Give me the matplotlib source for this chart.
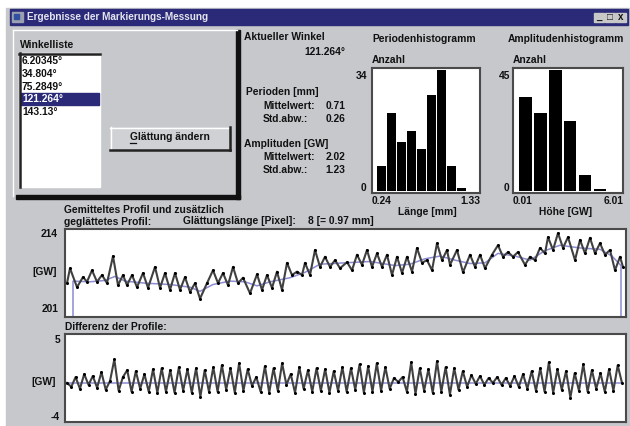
import numpy as np
import matplotlib.pyplot as plt
from matplotlib.patches import Rectangle

# ------------------------------------------------------------
# Data
# ------------------------------------------------------------
ANGLES = ["6.20345°", "34.804°", "75.2849°", "121.264°", "143.13°"]
SELECTED = 3
CURRENT_ANGLE = "121.264°"

PERIOD_MEAN, PERIOD_STD = "0.71", "0.26"
AMPL_MEAN, AMPL_STD = "2.02", "1.23"

PERIOD_COUNTS = [7, 22, 14, 17, 12, 27, 34, 7, 1, 0]
PERIOD_LABELS = ["0.24", "1.33"]
AMPL_COUNTS = [35, 29, 45, 26, 6, 1, 0]
AMPL_LABELS = ["0.01", "6.01"]

# averaged profile (pixel position along profile, grey value)
PROFILE_POS = [2, 5, 12, 18, 22, 27, 32, 37, 42, 48,
               53, 58, 62, 67, 72, 78, 83, 90, 95, 100,
               105, 110, 115, 120, 125, 130, 135, 142, 148, 153,
               158, 163, 168, 173, 178, 185, 192, 197, 202, 207,
               212, 217, 222, 227, 232, 237, 240, 245, 250, 255,
               260, 265, 270, 275, 282, 287, 292, 297, 302, 307,
               312, 317, 322, 327, 332, 337, 342, 347, 352, 357,
               362, 367, 372, 377, 382, 385, 392, 398, 405, 410,
               415, 420, 427, 433, 438, 443, 448, 453, 460, 465,
               470, 475, 480, 483, 488, 493, 498, 503, 510, 515,
               520, 525, 530, 535, 540, 545, 550, 555, 558]
PROFILE_GW = [206.0, 208.2, 205.4, 206.9, 206.2, 207.9, 206.2, 207.2, 206.0, 210.0,
              205.7, 207.2, 205.7, 207.2, 205.4, 207.5, 205.3, 208.4, 205.3, 207.5,
              205.0, 207.5, 205.0, 206.9, 204.7, 206.0, 203.7, 206.0, 207.9, 206.0,
              207.5, 205.7, 208.4, 206.0, 206.8, 204.5, 207.3, 205.0, 207.2, 205.3,
              207.7, 205.0, 209.0, 207.2, 207.7, 207.2, 209.0, 207.2, 210.9, 208.4,
              209.9, 208.4, 209.4, 208.2, 209.1, 207.9, 210.2, 208.7, 210.9, 208.4,
              210.4, 208.4, 210.2, 207.2, 209.9, 207.5, 209.9, 207.7, 211.2, 209.0,
              209.4, 207.9, 211.9, 209.4, 210.9, 208.7, 210.9, 207.6, 210.2, 208.4,
              210.2, 208.2, 210.2, 211.6, 209.9, 210.6, 209.9, 210.6, 208.7, 209.9,
              209.4, 211.2, 210.4, 212.8, 210.9, 213.4, 211.2, 212.8, 209.4, 212.4,
              210.4, 212.7, 210.4, 211.9, 210.2, 210.9, 207.9, 209.9, 208.4]

# smoothed profile (smoothing length 8 pixel)
SMOOTH_POS = [8, 8, 25, 40, 50, 60, 80, 105, 125, 135, 148, 165, 180, 192, 205,
              225, 240, 255, 280, 305, 330, 345, 360, 375, 390, 405, 420, 433,
              450, 465, 480, 495, 515, 535, 547, 556, 556]
SMOOTH_GW = [201.0, 206.3, 206.2, 206.4, 207.0, 206.3, 206.0, 205.8, 205.4, 204.8,
             205.8, 206.3, 206.2, 205.6, 206.2, 206.8, 207.6, 208.8, 209.0, 209.2,
             208.6, 208.8, 209.6, 210.0, 209.4, 208.9, 209.0, 210.4, 210.0, 209.4,
             210.8, 211.6, 211.2, 211.0, 210.0, 208.6, 201.0]

# difference of the profiles
DIFF_GW = [0.0, -0.4, 0.6, -0.6, 0.9, -0.2, 0.7, -0.5, 1.1, -0.7,
           0.2, 2.4, -0.8, 0.6, 1.3, -0.9, 1.2, -0.6, 0.9, -0.9,
           1.4, -1.0, 1.5, -0.9, 1.3, -1.0, 1.6, -0.8, 1.4, -1.0,
           1.5, -1.4, 1.3, -0.9, 1.6, -0.9, 1.8, -0.7, 1.5, -1.0,
           2.0, -0.8, 1.4, -0.3, 0.6, -0.9, 1.7, -1.0, 1.5, -0.8,
           2.0, -0.2, 0.9, -1.0, 1.6, -0.6, 1.3, -0.9, 1.5, -0.8,
           1.4, -1.0, 1.2, -0.8, 1.6, -0.9, 1.5, -0.7, 1.9, -1.0,
           1.7, -0.9, 2.0, -0.8, 1.6, -0.6, 0.5, 0.1, 0.6, -0.9,
           2.1, -1.1, 1.5, -0.8, 1.4, -1.0, 2.2, -0.9, 1.6, -1.2,
           1.5, -0.7, 1.2, -0.4, 0.8, -0.1, 0.7, -0.2, 0.5, 0.0,
           0.6, -0.2, 0.5, -0.3, 0.7, -0.4, 0.9, -0.6, 1.2, -0.8,
           1.5, -0.9, 2.1, -1.0, 1.4, -0.7, 1.2, -1.5, 1.0, -0.8,
           1.9, -0.9, 1.3, -0.6, 1.0, -0.9, 1.4, -0.8, 1.8, 0.0]

# ------------------------------------------------------------
# Style
# ------------------------------------------------------------
W, H = 630, 426
GRAY = '#c6c8cc'
NAVY = '#2a2a78'
LINE = '#404040'
BLUE = '#8c8cd4'
FONT = dict(family='Liberation Sans', fontweight='bold', fontsize=7.4, color='#111111')


def box(x0, y0, x1, y1):
    """pixel box -> figure fraction rect"""
    return [x0 / W, 1 - y1 / H, (x1 - x0) / W, (y1 - y0) / H]


def txt(ax, x, y, s, ha='left', **kw):
    opts = dict(FONT)
    opts.update(kw)
    ax.text(x, y, s, ha=ha, va='center', **opts)


def plain_axes(rect):
    ax = fig.add_axes(rect)
    ax.set_facecolor('white')
    ax.set_xticks([])
    ax.set_yticks([])
    for sp in ax.spines.values():
        sp.set_color('#4a4a4a')
        sp.set_linewidth(1.5)
    return ax


fig = plt.figure(figsize=(W / 100, H / 100), dpi=100)
fig.patch.set_facecolor('white')

# chrome layer in pixel coordinates
bg = fig.add_axes([0, 0, 1, 1])
bg.set_xlim(0, W)
bg.set_ylim(H, 0)
bg.axis('off')

bg.add_patch(Rectangle((6, 8), W - 6, H - 8, color=GRAY))
bg.add_patch(Rectangle((10, 9), 618, 16, color=NAVY))
bg.add_patch(Rectangle((12, 12), 11, 10, color='#9aa0b0'))
bg.add_patch(Rectangle((14, 14), 5, 5, color='#3050a0'))
txt(bg, 27, 17, "Ergebnisse der Markierungs-Messung", color='#e4e4ee', fontsize=7.2)
for bx, glyph in zip([594, 605, 616], ["_", "□", "x"]):
    bg.add_patch(Rectangle((bx, 13), 10, 9, color='#c8c8c8'))
    txt(bg, bx + 5, 17.5, glyph, ha='center', fontsize=7)

# group panel with shadow
bg.plot([13, 237], [30, 30], color='white', lw=1)
bg.plot([13, 13], [30, 196], color='white', lw=1)
bg.add_patch(Rectangle((236, 30), 4, 169, color='#111111'))
bg.add_patch(Rectangle((16, 195), 224, 4, color='#111111'))

# list box
txt(bg, 20, 45, "Winkelliste")
bg.add_patch(Rectangle((19, 53), 81, 134, color='white'))
bg.plot([19, 100], [53.5, 53.5], color='#222222', lw=1.8)
bg.plot([19.5, 19.5], [53, 187], color='#222222', lw=1.8)
for i, ang in enumerate(ANGLES):
    y = 61 + i * 12.8
    col = '#111111'
    if i == SELECTED:
        bg.add_patch(Rectangle((21, y - 6), 78, 12, color=NAVY))
        col = 'white'
    txt(bg, 22, y, ang, color=col)

# button
bg.add_patch(Rectangle((110, 127), 120, 23, color='#cfd1d4'))
bg.plot([110, 230], [127.5, 127.5], color='white', lw=1)
bg.plot([110.5, 110.5], [127, 150], color='white', lw=1)
bg.plot([110, 230], [150, 150], color='#222222', lw=1.8)
bg.plot([230, 230], [127, 150], color='#222222', lw=1.8)
txt(bg, 170, 137, "Glättung ändern", ha='center')
bg.plot([130, 136], [142.5, 142.5], color='#111111', lw=0.9)

# statistics text
txt(bg, 244, 37, "Aktueller Winkel")
txt(bg, 345, 52, CURRENT_ANGLE, ha='right')
txt(bg, 246, 92, "Perioden [mm]")
txt(bg, 263, 106, "Mittelwert:")
txt(bg, 345, 106, PERIOD_MEAN, ha='right')
txt(bg, 263, 119, "Std.abw.:")
txt(bg, 345, 119, PERIOD_STD, ha='right')
txt(bg, 244, 144, "Amplituden [GW]")
txt(bg, 263, 157, "Mittelwert:")
txt(bg, 345, 157, AMPL_MEAN, ha='right')
txt(bg, 263, 170, "Std.abw.:")
txt(bg, 345, 170, AMPL_STD, ha='right')

# histogram labels
txt(bg, 372, 39, "Periodenhistogramm")
txt(bg, 372, 60, "Anzahl")
txt(bg, 367, 76, str(max(PERIOD_COUNTS)), ha='right')
txt(bg, 366, 188, "0", ha='right')
txt(bg, 372, 201, PERIOD_LABELS[0])
txt(bg, 480, 201, PERIOD_LABELS[1], ha='right')
txt(bg, 427, 212, "Länge [mm]", ha='center')

txt(bg, 566, 39, "Amplitudenhistogramm", ha='center')
txt(bg, 513, 60, "Anzahl")
txt(bg, 510, 76, str(max(AMPL_COUNTS)), ha='right')
txt(bg, 509, 188, "0", ha='right')
txt(bg, 513, 201, AMPL_LABELS[0])
txt(bg, 623, 201, AMPL_LABELS[1], ha='right')
txt(bg, 566, 212, "Höhe [GW]", ha='center')

# profile labels
txt(bg, 64, 210, "Gemitteltes Profil und zusätzlich")
txt(bg, 64, 222, "geglättetes Profil:")
txt(bg, 183, 221, "Glättungslänge [Pixel]:")
txt(bg, 308, 221, "8 [= 0.97 mm]")
txt(bg, 58, 234, "214", ha='right')
txt(bg, 57, 272, "[GW]", ha='right')
txt(bg, 58, 309, "201", ha='right')

txt(bg, 65, 327, "Differenz der Profile:")
txt(bg, 60, 340, "5", ha='right')
txt(bg, 56, 382, "[GW]", ha='right')
txt(bg, 60, 417, "-4", ha='right')

# ------------------------------------------------------------
# Histograms
# ------------------------------------------------------------
axp = plain_axes(box(372, 68, 480, 193))
axp.bar(np.arange(len(PERIOD_COUNTS)) + 0.5, PERIOD_COUNTS, width=0.9, color='black')
axp.set_xlim(-0.43, len(PERIOD_COUNTS) + 0.3)
axp.set_ylim(-0.47, 34.66)

axa = plain_axes(box(513, 68, 623, 193))
axa.bar(np.arange(len(AMPL_COUNTS)) + 0.5, AMPL_COUNTS, width=0.84, color='black')
axa.set_xlim(-0.34, len(AMPL_COUNTS) + 0.05)
axa.set_ylim(-0.62, 45.87)

# ------------------------------------------------------------
# Profile and difference
# ------------------------------------------------------------
axf = plain_axes(box(65, 229, 626, 317))
axf.plot(SMOOTH_POS, SMOOTH_GW, color=BLUE, lw=1.1)
axf.plot(PROFILE_POS, PROFILE_GW, color=LINE, lw=1.5,
         marker='o', ms=1.2, mfc='black', mec='black')
axf.set_xlim(0, 561)
axf.set_ylim(201, 214)

axd = plain_axes(box(65, 334, 626, 422))
diff_pos = np.linspace(2, 557, len(DIFF_GW))
axd.plot([diff_pos[0], diff_pos[-1]], [0, 0], color=BLUE, lw=1.1)
axd.plot(diff_pos, DIFF_GW, color=LINE, lw=1.5,
         marker='o', ms=1.2, mfc='black', mec='black')
axd.set_xlim(0, 561)
axd.set_ylim(-4, 5)

fig.savefig('out.png', dpi=100, facecolor=fig.get_facecolor())
